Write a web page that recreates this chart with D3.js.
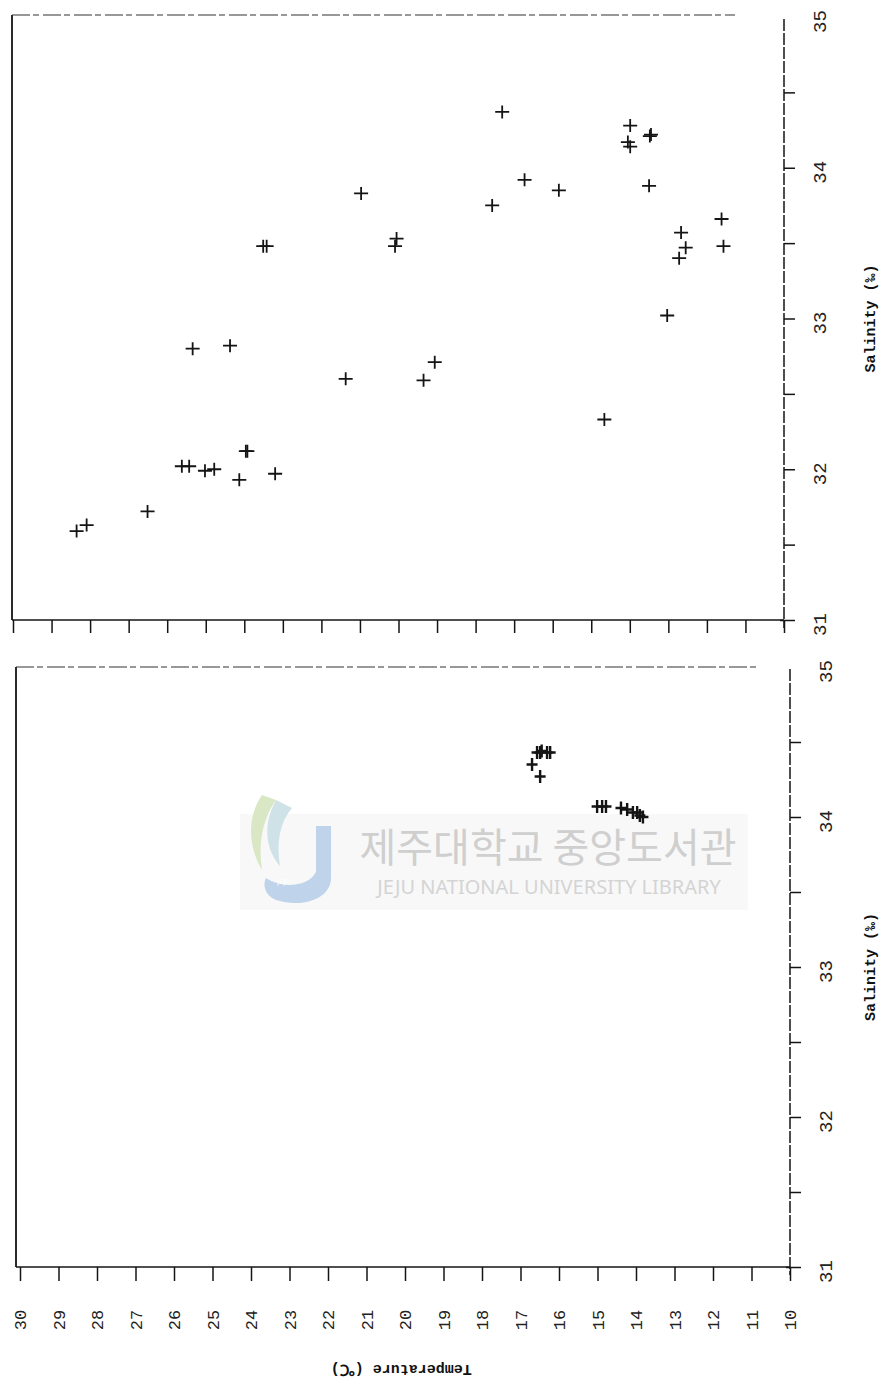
<!DOCTYPE html>
<html>
<head>
<meta charset="utf-8">
<script src="https://cdn.jsdelivr.net/npm/d3@7"></script>
<style>
  html, body { margin: 0; padding: 0; background: #fff; }
  svg { display: block; }
</style>
</head>
<body>
<script>
// ---------- data ----------
// Upper panel (temperature °C vs salinity ‰)
const tempUpper = [28.35, 28.09, 26.51, 25.62, 25.43, 25.02, 24.78, 25.34, 24.37, 24.13,
                   23.96, 23.92, 23.51, 23.42, 23.20, 21.37, 20.97, 20.09, 20.05, 19.35,
                   19.06, 17.57, 17.31, 16.73, 15.84, 14.66, 13.99, 14.05, 13.99, 13.48,
                   13.45, 13.50, 13.03, 12.67, 12.55, 12.72, 11.62, 11.57];
const salUpper  = [31.59, 31.63, 31.72, 32.02, 32.02, 31.99, 32.00, 32.80, 32.82, 31.93,
                   32.12, 32.12, 33.48, 33.48, 31.97, 32.60, 33.83, 33.48, 33.53, 32.59,
                   32.71, 33.75, 34.37, 33.92, 33.85, 32.33, 34.28, 34.17, 34.14, 34.21,
                   34.22, 33.88, 33.02, 33.57, 33.47, 33.40, 33.66, 33.48];
// Lower panel
const tempLower = [16.57, 16.49, 16.31, 16.23, 16.45, 16.70, 16.49, 15.01, 14.88, 14.78,
                   14.39, 14.23, 14.08, 13.97, 13.90, 13.82];
const salLower  = [34.43, 34.43, 34.43, 34.43, 34.44, 34.35, 34.27, 34.07, 34.07, 34.07,
                   34.06, 34.05, 34.03, 34.03, 34.01, 34.00];

const tempTicks = d3.range(30, 9, -1);            // 30 ... 10
const salTicks  = [31, 31.5, 32, 32.5, 33, 33.5, 34, 34.5, 35];
const salLabelText = "Salinity (‰)";
const tempLabelText = "Temperature (℃)";

// ---------- drawing ----------
const W = 882, H = 1385;
const svg = d3.select("body").append("svg").attr("width", W).attr("height", H);
const ink = "#141414";
const monoFont = "'Liberation Mono', 'DejaVu Sans Mono', monospace";

// watermark (library stamp), drawn first so marks sit above it
const wm = svg.append("g");
wm.append("rect").attr("x", 240).attr("y", 814).attr("width", 508).attr("height", 96)
  .attr("fill", "#f8f8f8");
wm.append("path").attr("d", "M262,795 C245,820 250,850 262,870 C258,845 262,820 276,800 Z")
  .attr("fill", "#d9e7c4");
wm.append("path").attr("d", "M276,800 C262,825 266,850 280,866 C276,842 280,822 292,808 Z")
  .attr("fill", "#cfe2e8");
wm.append("path").attr("d", "M316,826 L331,826 L331,878 C331,900 300,908 276,900 C266,896 262,886 266,878 C280,888 308,888 316,872 Z")
  .attr("fill", "#bfd3ea");
wm.append("text").attr("x", 284).attr("y", 884).attr("text-anchor", "middle")
  .attr("font-family", "DejaVu Sans").attr("font-size", 7).attr("fill", "#fff").text("JEJU");
wm.append("text").attr("x", 548).attr("y", 862).attr("text-anchor", "middle")
  .attr("font-family", "'Noto Sans CJK KR'").attr("font-size", 40)
  .attr("fill", "#cfcfcf").text("제주대학교 중앙도서관");
wm.append("text").attr("x", 549).attr("y", 894).attr("text-anchor", "middle")
  .attr("font-family", "'Noto Sans', sans-serif").attr("font-size", 20)
  .attr("fill", "#d4d4d4").text("JEJU NATIONAL UNIVERSITY  LIBRARY");

function panel(cfg) {
  const x = d3.scaleLinear().domain([30, 10]).range([cfg.x0, cfg.x1]);
  const y = d3.scaleLinear().domain([31, 35]).range([cfg.y0, cfg.y1]);
  const g = svg.append("g");

  // frame: left and top (scanned, top is faint/dashed)
  g.append("line").attr("x1", cfg.frameX).attr("x2", cfg.frameX)
    .attr("y1", cfg.frameTop).attr("y2", cfg.y0)
    .attr("stroke", ink).attr("stroke-width", 1.8);
  g.append("line").attr("x1", cfg.frameX).attr("x2", cfg.topEnd)
    .attr("y1", cfg.frameTop).attr("y2", cfg.frameTop)
    .attr("stroke", "#333").attr("stroke-width", 1.2)
    .attr("stroke-dasharray", "18,3,6,4");

  // temperature axis (bottom)
  const xAxis = d3.axisBottom(x).tickValues(tempTicks).tickSize(cfg.tickLen).tickSizeOuter(0)
    .tickFormat(cfg.tempLabels ? d3.format("d") : "");
  const gx = g.append("g").attr("transform", `translate(0,${cfg.y0})`).call(xAxis);
  gx.select(".domain").attr("stroke", ink).attr("stroke-width", 1.6)
    .attr("d", `M${cfg.frameX},0H${cfg.x1}`);
  gx.selectAll(".tick line").attr("stroke", ink).attr("stroke-width", 1.5);
  gx.selectAll(".tick text")
    .attr("y", null).attr("dy", "0.35em")
    .attr("transform", "translate(0,53) rotate(-90)")
    .attr("text-anchor", "middle")
    .attr("font-family", monoFont).attr("font-size", 17)
    .attr("fill", "#222");

  // salinity axis (right)
  const yAxis = d3.axisRight(y).tickValues(salTicks).tickSize(11).tickSizeOuter(0)
    .tickFormat(d => Number.isInteger(d) ? d3.format("d")(d) : "");
  const gy = g.append("g").attr("transform", `translate(${cfg.x1},0)`).call(yAxis);
  gy.select(".domain").attr("stroke", ink).attr("stroke-width", 1.5)
    .attr("stroke-dasharray", "12,2")
    .attr("d", `M0,${cfg.y1 + 2}V${cfg.y0 + 8}`);
  gy.selectAll(".tick line").attr("stroke", ink).attr("stroke-width", 1.5)
    .attr("x1", d => d === 31 ? -4 : 0)
    .attr("opacity", d => d === 35 ? 0 : 1);
  gy.selectAll(".tick text")
    .attr("x", null).attr("dy", null)
    .attr("transform", "translate(37,4) rotate(-90)")
    .attr("text-anchor", "middle").attr("dominant-baseline", "central")
    .attr("font-family", monoFont).attr("font-size", 19)
    .attr("fill", "#222");

  // salinity title
  g.append("text")
    .attr("transform", `translate(${cfg.titleX},${y(33)}) rotate(-90)`)
    .attr("text-anchor", "middle").attr("dominant-baseline", "central")
    .attr("font-family", monoFont).attr("font-weight", "bold").attr("font-size", 15)
    .attr("fill", "#111").text(salLabelText);

  return { g, x, y };
}

function crosses(p, temps, sals, hx, hy, sw) {
  p.g.append("g").selectAll("path").data(temps.map((t, i) => [t, sals[i]]))
    .join("path")
    .attr("d", d => {
      const cx = p.x(d[0]), cy = p.y(d[1]);
      return `M${cx - hx},${cy}H${cx + hx}M${cx},${cy - hy}V${cy + hy}`;
    })
    .attr("stroke", ink).attr("stroke-width", sw).attr("fill", "none");
}

const upperPanel = panel({ x0: 13, x1: 784, y0: 620, y1: 17, frameX: 12, frameTop: 15,
                    topEnd: 735, tickLen: 13, tempLabels: false, titleX: 871 });
const lowerPanel = panel({ x0: 20, x1: 790, y0: 1267, y1: 667, frameX: 16, frameTop: 667,
                    topEnd: 760, tickLen: 14, tempLabels: true, titleX: 871 });

crosses(upperPanel, tempUpper, salUpper, 7, 6.5, 1.8);
crosses(lowerPanel, tempLower, salLower, 5.5, 6.5, 2.4);

// temperature title (upside down)
svg.append("text")
  .attr("transform", `translate(${lowerPanel.x(20.1)},1368) rotate(180)`)
  .attr("text-anchor", "middle").attr("dominant-baseline", "central")
  .attr("font-family", monoFont).attr("font-weight", "bold").attr("font-size", 15)
  .attr("fill", "#111").text(tempLabelText);
</script>
</body>
</html>
